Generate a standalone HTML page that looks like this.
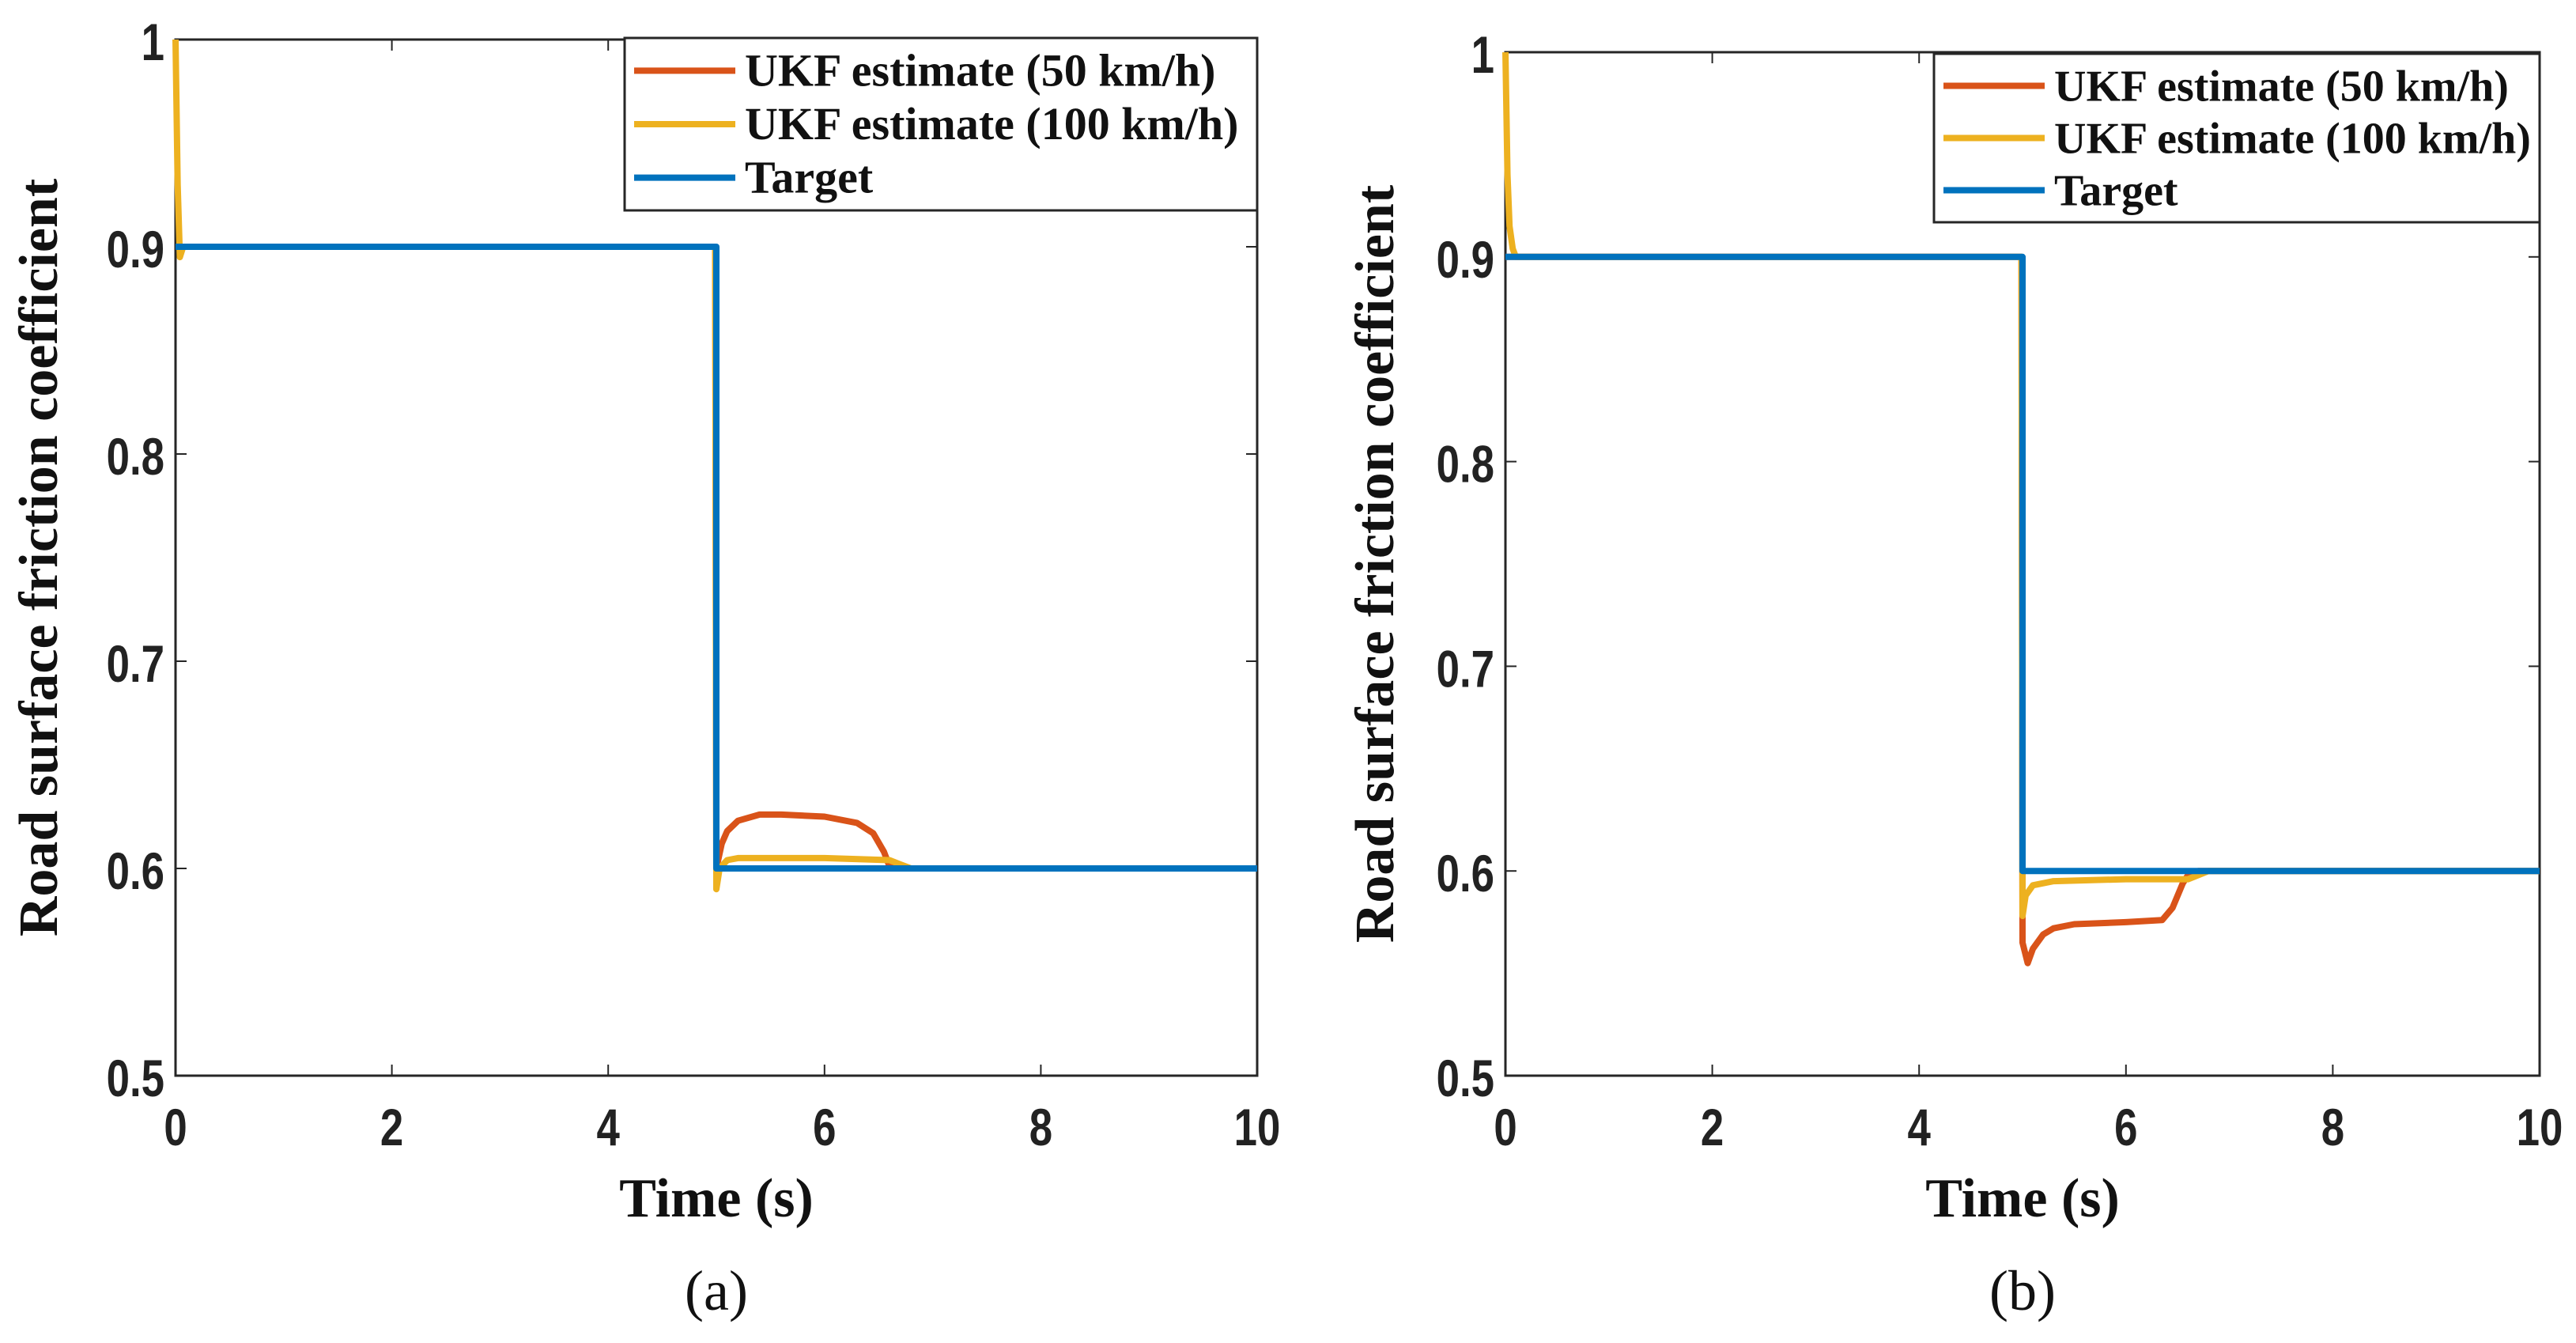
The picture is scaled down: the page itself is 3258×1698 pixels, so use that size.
<!DOCTYPE html>
<html><head><meta charset="utf-8"><style>
html,body{margin:0;padding:0;background:#fff;width:3258px;height:1698px;overflow:hidden}
svg{display:block}
.tick{font-family:"Liberation Sans",sans-serif;font-weight:bold;font-size:66px;fill:#222}
.ser{font-family:"Liberation Serif",serif;font-weight:bold;fill:#111}
</style></head><body>
<svg id="chart" width="3258" height="1698" viewBox="0 0 3258 1698" xmlns="http://www.w3.org/2000/svg"></svg>
<script>
// data
const xTicks=[0,2,4,6,8,10];
const yTicks=[0.5,0.6,0.7,0.8,0.9,1];
const yTickLabels=["0.5","0.6","0.7","0.8","0.9","1"];
const seriesNames=["UKF estimate (50 km/h)","UKF estimate (100 km/h)","Target"];
const tA50=[0,4.99,5.0,5.05,5.1,5.2,5.4,5.6,6.0,6.3,6.45,6.55,6.6,6.7,10];
const vA50=[0.9,0.9,0.6,0.612,0.618,0.623,0.626,0.626,0.625,0.622,0.617,0.608,0.601,0.6,0.6];
const tA100=[0,0.02,0.04,0.07,4.99,5.0,5.03,5.1,5.2,6.0,6.6,6.7,6.8,10];
const vA100=[1.0,0.93,0.895,0.9,0.9,0.59,0.6,0.604,0.605,0.605,0.604,0.602,0.6,0.6];
const tTarget=[0,5,5,10];
const vTarget=[0.9,0.9,0.6,0.6];
const tB50=[0,4.99,5.0,5.05,5.1,5.2,5.3,5.5,6.0,6.35,6.45,6.55,6.6,6.7,10];
const vB50=[0.9,0.9,0.565,0.555,0.562,0.569,0.572,0.574,0.575,0.576,0.582,0.594,0.598,0.6,0.6];
const tB100=[0,0.02,0.04,0.07,0.1,4.99,5.0,5.03,5.1,5.3,6.0,6.6,6.7,6.8,10];
const vB100=[1.0,0.94,0.915,0.904,0.9,0.9,0.578,0.588,0.593,0.595,0.596,0.596,0.598,0.6,0.6];

const NS="http://www.w3.org/2000/svg";
const svg=document.getElementById('chart');
function mk(tag,attrs,parent){const e=document.createElementNS(NS,tag);for(const k in attrs)e.setAttribute(k,attrs[k]);(parent||svg).appendChild(e);return e;}
const colors=["#D95319","#EDB120","#0072BD"];

function panel(id,L,R,T,B,ylabX,lg,series,letter){
  const g=mk('g',{});
  
  
  const X=t=>L+(t-0)/(10-0)*(R-L);
  const Y=v=>B-(v-0.5)/(1-0.5)*(B-T);
  const frame=mk('rect',{x:L,y:T,width:R-L,height:B-T,fill:'none',stroke:'#262626','stroke-width':3},g);
  
  
  xTicks.forEach(t=>{
    mk('line',{x1:X(t),x2:X(t),y1:B,y2:B-14,stroke:'#262626','stroke-width':2},g);
    mk('line',{x1:X(t),x2:X(t),y1:T,y2:T+14,stroke:'#262626','stroke-width':2},g);
    const tg=mk('g',{transform:`translate(${X(t)},${B+88}) scale(0.8,1)`},g);
    const tx=mk('text',{x:0,y:0,'text-anchor':'middle',class:'tick'},tg);
    tx.textContent=String(t);
    
    
  });
  yTicks.forEach((v,i)=>{
    mk('line',{x1:L,x2:L+14,y1:Y(v),y2:Y(v),stroke:'#262626','stroke-width':2},g);
    mk('line',{x1:R,x2:R-14,y1:Y(v),y2:Y(v),stroke:'#262626','stroke-width':2},g);
    const tg=mk('g',{transform:`translate(${L-14},${Y(v)+26}) scale(0.8,1)`},g);
    const tx=mk('text',{x:0,y:0,'text-anchor':'end',class:'tick'},tg);
    tx.textContent=yTickLabels[i];
    
    
  });
  series.forEach((s,i)=>{
    const d=s.t.map((t,j)=>(j?'L':'M')+X(t).toFixed(1)+','+Y(s.v[j]).toFixed(1)).join(' ');
    const p=mk('path',{d:d,fill:'none',stroke:colors[s.c],'stroke-width':8,'stroke-linejoin':'round'},g);
    
    
  });
  const yl=mk('text',{x:ylabX,y:(T+B)/2,'text-anchor':'middle',class:'ser','font-size':70,transform:`rotate(-90 ${ylabX} ${(T+B)/2})`},g);
  yl.textContent='Road surface friction coefficient';
  
  
  const xl=mk('text',{x:(L+R)/2,y:B+178,'text-anchor':'middle',class:'ser','font-size':70},g);
  xl.textContent='Time (s)';
  
  
  const cap=mk('text',{x:(L+R)/2,y:B+296,'text-anchor':'middle','font-family':'Liberation Serif, serif','font-size':72,fill:'#111'},g);
  cap.textContent=letter;
  
  
  // legend
  const lgG=mk('g',{},g);
  
  
  mk('rect',{x:lg.x,y:lg.y,width:lg.w,height:lg.h,fill:'#fff',stroke:'#262626','stroke-width':3},lgG);
  seriesNames.forEach((n,i)=>{
    const yy=lg.y+lg.h*(0.19+0.31*i);
    mk('line',{x1:lg.x+12,x2:lg.x+140,y1:yy,y2:yy,stroke:colors[i],'stroke-width':8},lgG);
    const t=mk('text',{x:lg.x+152,y:yy+19,class:'ser','font-size':lg.fs},lgG);
    t.textContent=n;
    
    
  });
}
panel('panel-a',222,1590,50,1360,72,{x:790,y:48,w:800,h:218,fs:58},
 [{t:tA50,v:vA50,c:0,name:'line-ukf-50'},{t:tA100,v:vA100,c:1,name:'line-ukf-100'},{t:tTarget,v:vTarget,c:2,name:'line-target'}],'(a)');
panel('panel-b',1904,3212,66,1360,1762,{x:2446,y:68,w:766,h:213,fs:56},
 [{t:tB50,v:vB50,c:0,name:'line-ukf-50'},{t:tB100,v:vB100,c:1,name:'line-ukf-100'},{t:tTarget,v:vTarget,c:2,name:'line-target'}],'(b)');
</script>
</body></html>
